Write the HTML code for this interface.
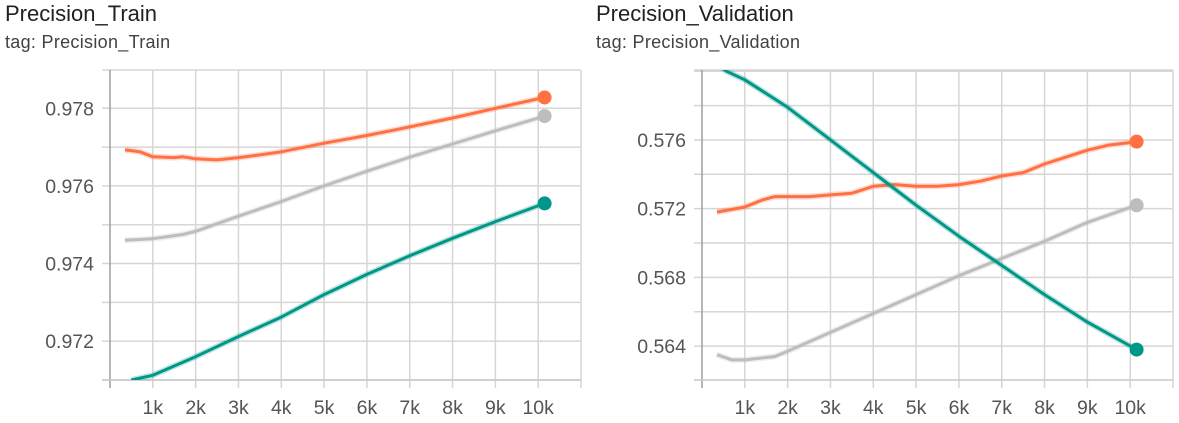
<!DOCTYPE html>
<html><head><meta charset="utf-8"><style>
body{margin:0;background:#fff;width:1179px;height:423px;overflow:hidden;font-family:"Liberation Sans",sans-serif;}
.t{position:absolute;font-size:22px;color:#212121;}
.s{position:absolute;font-size:18px;color:#424242;letter-spacing:0.3px;}
svg{position:absolute;left:0;top:0;}
</style></head><body>
<div class="t" style="left:5px;top:1px">Precision_Train</div>
<div class="s" style="left:5px;top:32px">tag: Precision_Train</div>
<div class="t" style="left:596px;top:1px">Precision_Validation</div>
<div class="s" style="left:596px;top:32px">tag: Precision_Validation</div>
<svg id="svg" width="1179" height="423"></svg>
<script>
const xTicks=[1,2,3,4,5,6,7,8,9,10];
const xTickLabels=["1k","2k","3k","4k","5k","6k","7k","8k","9k","10k"];
const trainYTicks=[0.972,0.974,0.976,0.978];
const trainYLabels=["0.972","0.974","0.976","0.978"];
const trainOrangeX=[0.35,0.7,1,1.5,1.7,2,2.5,3,3.5,4,5,6,7,8,9,10.15];
const trainOrangeY=[.97693,.97688,.97675,.97673,.97675,.97670,.97667,.97673,.97680,.97688,.97710,.97730,.97752,.97775,.97800,.97828];
const trainGrayX=[0.35,1,1.7,2,3,4,5,6,7,8,9,10.15];
const trainGrayY=[.97460,.97464,.97475,.97483,.97522,.97560,.97600,.97638,.97674,.97708,.97742,.97780];
const trainTealX=[0.5,1,2,3,4,5,6,7,8,9,10.15];
const trainTealY=[.97100,.97112,.97160,.97212,.97262,.97320,.97372,.97420,.97465,.97508,.97555];
const valYTicks=[0.564,0.568,0.572,0.576];
const valYLabels=["0.564","0.568","0.572","0.576"];
const valOrangeX=[0.35,1,1.4,1.7,2,2.5,3,3.5,4,4.5,5,5.5,6,6.5,7,7.5,8,8.5,9,9.5,10.15];
const valOrangeY=[.5718,.5721,.5725,.5727,.5727,.5727,.5728,.5729,.5733,.5734,.5733,.5733,.5734,.5736,.5739,.5741,.5746,.5750,.5754,.5757,.5759];
const valGrayX=[0.35,0.7,1,1.7,2,3,4,5,6,7,8,9,10.15];
const valGrayY=[.5635,.5632,.5632,.5634,.5637,.5648,.5659,.5670,.5681,.5691,.5701,.5712,.5722];
const valTealX=[0.3,0.57,1,1.5,2,3,4,5,6,7,8,9,10.15];
const valTealY=[.5805,.5800,.5795,.5787,.5779,.5760,.5741,.5722,.5704,.5687,.5670,.5654,.5638];

const NS="http://www.w3.org/2000/svg";
const svg=document.getElementById('svg');
function mk(tag,attrs,parent){const e=document.createElementNS(NS,tag);for(const k in attrs)e.setAttribute(k,attrs[k]);(parent||svg).appendChild(e);return e;}

function chart(cfg){
  const {x0,x1,y0,y1,ymin,ymax,id}=cfg;
  const g=mk('g',{});
  
  
  const sx=v=>x0+v*(x1-x0)/11;
  const sy=v=>y1-(v-ymin)/(ymax-ymin)*(y1-y0);
  const step=cfg.yTicks[1]-cfg.yTicks[0];
  for(let v=cfg.yTicks[0]-step/2;v<=ymax;v+=step/2){
    const y=sy(v); if(y<y0-1||y>y1)continue;
    const l=mk('line',{x1:x0-8,x2:x1,y1:y,y2:y,stroke:'#d6d6d6','stroke-width':1.5},g);
    
    
  }
  mk('line',{x1:x0-8,x2:x1,y1:y0,y2:y0,stroke:'#d6d6d6','stroke-width':1.5},g);
  for(let i=0;i<=11;i++){
    const x=sx(i);
    const l=mk('line',{x1:x,x2:x,y1:y0,y2:y1+8,stroke:i==0?'#9e9e9e':'#d6d6d6','stroke-width':1.5},g);
    
    
  }
  mk('line',{x1:x0-8,x2:x1,y1:y1,y2:y1,stroke:'#c8c8c8','stroke-width':1.5},g);
  cfg.yTicks.forEach((v,i)=>{
    const t=mk('text',{x:x0-16,y:sy(v)+7,'text-anchor':'end','font-size':19.5,fill:'#555','font-family':'Liberation Sans, sans-serif'},g);
    t.textContent=cfg.yLabels[i];
    
    
  });
  xTicks.forEach((v,i)=>{
    const t=mk('text',{x:sx(v),y:414,'text-anchor':'middle','font-size':19.5,fill:'#555','font-family':'Liberation Sans, sans-serif'},g);
    t.textContent=xTickLabels[i];
    
    
  });
  const cp=mk('clipPath',{id:'cp'+id},g);
  mk('rect',{x:x0,y:y0,width:x1-x0,height:y1-y0},cp);
  cfg.series.forEach(s=>{
    const d=s.xs.map((v,i)=>(i?'L':'M')+sx(v).toFixed(1)+','+sy(s.ys[i]).toFixed(1)).join('');
    mk('path',{d,fill:'none',stroke:s.color,'stroke-opacity':0.25,'stroke-width':6,'clip-path':'url(#cp'+id+')'},g);
    const p=mk('path',{d,fill:'none',stroke:s.color,'stroke-width':3,'stroke-linejoin':'round','clip-path':'url(#cp'+id+')'},g);
    
    
    const n=s.xs.length-1;
    const c=mk('circle',{cx:sx(s.xs[n]),cy:sy(s.ys[n]),r:7,fill:s.color},g);
    
    
  });
}
chart({id:'train',x0:110,x1:581,y0:70,y1:380,ymin:0.97100,ymax:0.978987,yTicks:trainYTicks,yLabels:trainYLabels,
  series:[{name:'gray-series',color:'#bdbdbd',xs:trainGrayX,ys:trainGrayY},
          {name:'teal-series',color:'#009688',xs:trainTealX,ys:trainTealY},
          {name:'orange-series',color:'#ff7043',xs:trainOrangeX,ys:trainOrangeY}]});
chart({id:'val',x0:702,x1:1173,y0:70,y1:380,ymin:0.56203,ymax:0.58007,yTicks:valYTicks,yLabels:valYLabels,
  series:[{name:'gray-series',color:'#bdbdbd',xs:valGrayX,ys:valGrayY},
          {name:'orange-series',color:'#ff7043',xs:valOrangeX,ys:valOrangeY},
          {name:'teal-series',color:'#009688',xs:valTealX,ys:valTealY}]});
</script>
</body></html>
